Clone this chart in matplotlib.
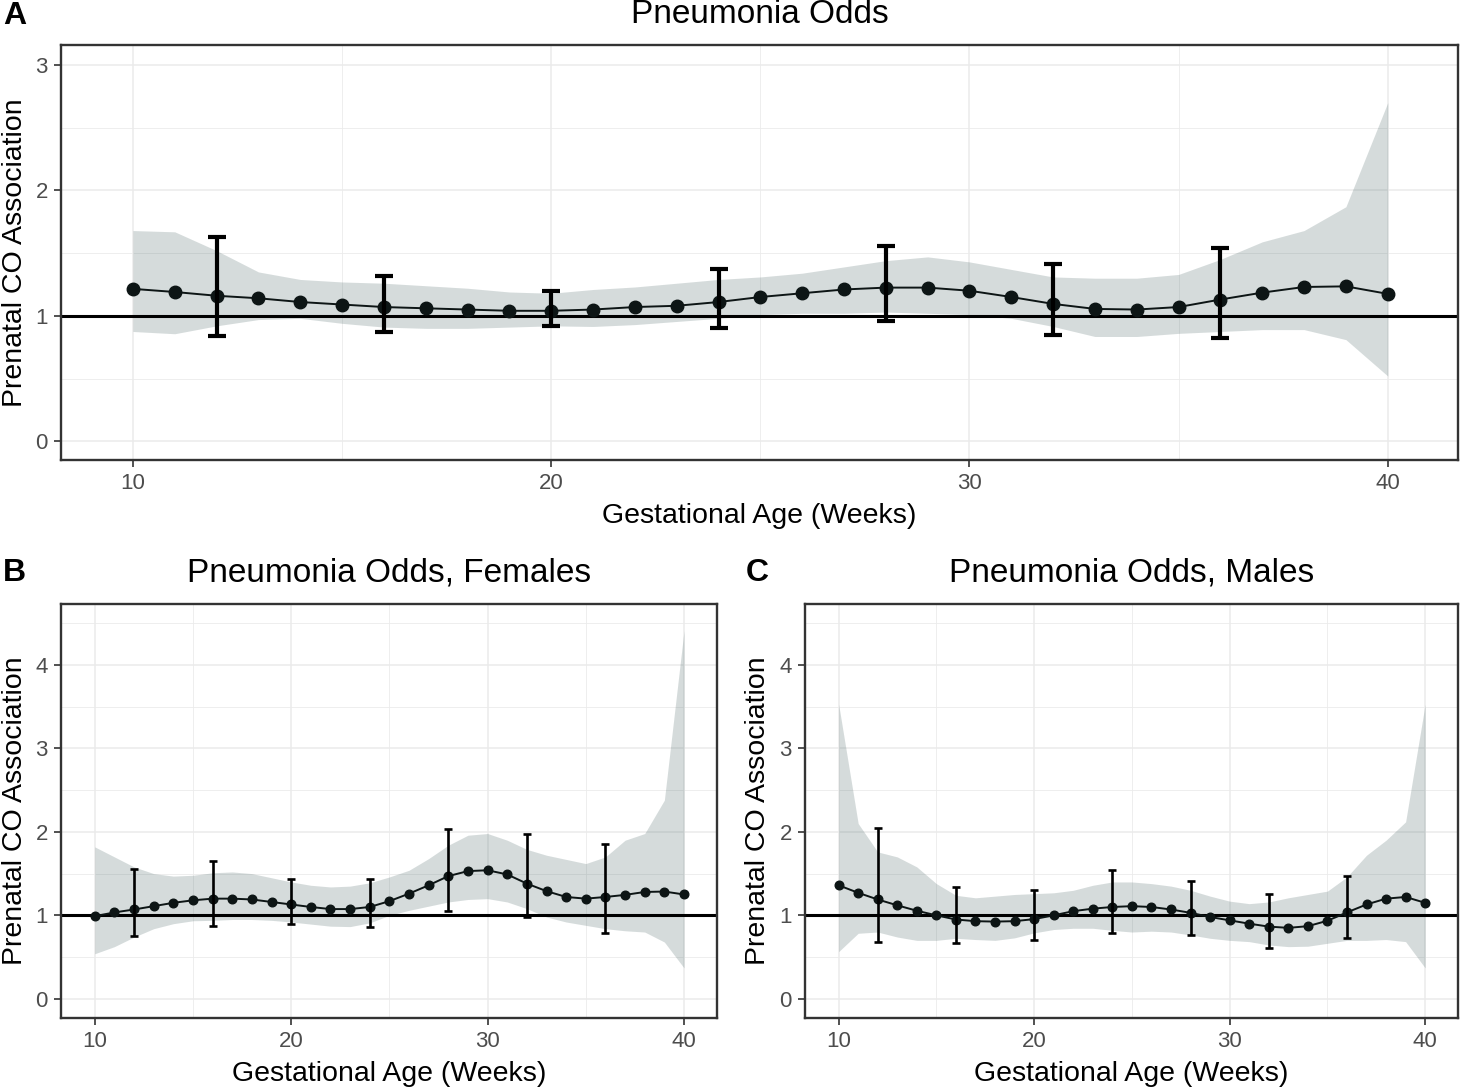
import matplotlib
matplotlib.use("Agg")
import matplotlib.pyplot as plt
import numpy as np

plt.rcParams['font.family'] = ['Liberation Sans', 'DejaVu Sans']

weeks = list(range(10, 41))
err_weeks = [12, 16, 20, 24, 28, 32, 36]

# panel A - all
a_est = [1.215, 1.19, 1.16, 1.14, 1.11, 1.09, 1.07, 1.06, 1.05, 1.04, 1.04,
         1.05, 1.07, 1.08, 1.11, 1.15, 1.18, 1.21, 1.225, 1.225, 1.20,
         1.15, 1.095, 1.055, 1.05, 1.07, 1.13, 1.185, 1.23, 1.235, 1.175]
a_hi = [1.68, 1.67, 1.52, 1.35, 1.29, 1.27, 1.26, 1.24, 1.22, 1.19, 1.18,
        1.21, 1.23, 1.26, 1.29, 1.31, 1.34, 1.39, 1.44, 1.47, 1.43,
        1.37, 1.31, 1.30, 1.30, 1.33, 1.45, 1.59, 1.68, 1.87, 2.70]
a_lo = [0.875, 0.857, 0.92, 0.97, 0.98, 0.94, 0.91, 0.90, 0.90, 0.91, 0.92,
        0.915, 0.93, 0.955, 0.98, 1.01, 1.02, 1.02, 1.03, 1.02, 1.01,
        0.98, 0.915, 0.835, 0.835, 0.86, 0.875, 0.89, 0.89, 0.81, 0.52]
a_err_hi = [1.63, 1.32, 1.20, 1.37, 1.56, 1.41, 1.54]
a_err_lo = [0.84, 0.87, 0.915, 0.90, 0.96, 0.85, 0.82]

# panel B - females
b_est = [0.99, 1.035, 1.07, 1.11, 1.15, 1.18, 1.20, 1.20, 1.19, 1.16, 1.13,
         1.10, 1.075, 1.075, 1.10, 1.17, 1.26, 1.36, 1.47, 1.53, 1.54,
         1.49, 1.38, 1.29, 1.22, 1.20, 1.22, 1.245, 1.28, 1.285, 1.25]
b_hi = [1.82, 1.70, 1.58, 1.50, 1.47, 1.48, 1.51, 1.52, 1.50, 1.45, 1.40,
        1.36, 1.34, 1.35, 1.39, 1.46, 1.54, 1.68, 1.84, 1.96, 1.98,
        1.90, 1.79, 1.72, 1.67, 1.62, 1.70, 1.90, 1.98, 2.38, 4.41]
b_lo = [0.54, 0.625, 0.74, 0.84, 0.90, 0.935, 0.94, 0.95, 0.95, 0.94, 0.92,
        0.895, 0.87, 0.865, 0.91, 1.00, 1.06, 1.11, 1.16, 1.19, 1.20,
        1.16, 1.08, 0.98, 0.92, 0.88, 0.84, 0.815, 0.80, 0.68, 0.37]
b_err_hi = [1.56, 1.65, 1.44, 1.43, 2.04, 1.97, 1.86]
b_err_lo = [0.75, 0.87, 0.895, 0.855, 1.05, 0.975, 0.785]

# panel C - males
c_est = [1.36, 1.27, 1.19, 1.12, 1.055, 1.00, 0.95, 0.93, 0.925, 0.93, 0.955,
         1.00, 1.05, 1.08, 1.10, 1.11, 1.10, 1.07, 1.03, 0.98, 0.94,
         0.90, 0.865, 0.85, 0.87, 0.935, 1.035, 1.13, 1.20, 1.22, 1.15]
c_hi = [3.53, 2.10, 1.76, 1.70, 1.58, 1.38, 1.24, 1.21, 1.23, 1.25, 1.26,
        1.27, 1.30, 1.36, 1.40, 1.40, 1.38, 1.35, 1.30, 1.23, 1.17,
        1.14, 1.16, 1.21, 1.25, 1.29, 1.46, 1.72, 1.90, 2.12, 3.53]
c_lo = [0.565, 0.785, 0.80, 0.74, 0.70, 0.70, 0.725, 0.71, 0.70, 0.73, 0.79,
        0.83, 0.845, 0.845, 0.82, 0.80, 0.81, 0.80, 0.765, 0.725, 0.70,
        0.685, 0.645, 0.625, 0.63, 0.665, 0.70, 0.70, 0.71, 0.685, 0.37]
c_err_hi = [2.05, 1.34, 1.30, 1.54, 1.41, 1.26, 1.47]
c_err_lo = [0.685, 0.67, 0.71, 0.785, 0.765, 0.605, 0.725]

W, H = 1460, 1087
fig = plt.figure(figsize=(W / 100, H / 100), dpi=100)


def px_axes(l, t, r, b):
    return fig.add_axes([l / W, 1 - b / H, (r - l) / W, (b - t) / H])


ax_a = px_axes(61, 45, 1458, 460)
ax_b = px_axes(61, 604, 717, 1018)
ax_c = px_axes(805, 604, 1458, 1018)

panels = [
    (ax_a, "Pneumonia Odds", a_est, a_hi, a_lo, a_err_hi, a_err_lo, True),
    (ax_b, "Pneumonia Odds, Females", b_est, b_hi, b_lo, b_err_hi, b_err_lo, False),
    (ax_c, "Pneumonia Odds, Males", c_est, c_hi, c_lo, c_err_hi, c_err_lo, False),
]

for ax, title, est, hi, lo, ehi, elo, big in panels:
    ax.set_axisbelow(True)
    ax.fill_between(weeks, lo, hi, color='#2F4F4F', alpha=0.2, lw=0, zorder=1)
    ax.axhline(1, color='black', lw=2.2, zorder=2)
    ax.plot(weeks, est, color='#0d1515', lw=1.4, zorder=3)
    ax.plot(weeks, est, 'o', color='#0d1515', ms=9 if big else 6.2, zorder=4)
    e_mid = [est[weeks.index(w)] for w in err_weeks]
    yerr = [np.array(e_mid) - np.array(elo), np.array(ehi) - np.array(e_mid)]
    ax.errorbar(err_weeks, e_mid, yerr=yerr, fmt='none', ecolor='black',
                elinewidth=3.0 if big else 1.9, capsize=6.4 if big else 3.2,
                capthick=3.0 if big else 1.9, zorder=5)

    ax.set_xlim(8.28, 41.68)
    ax.set_xticks([10, 20, 30, 40])
    ax.set_xticks([15, 25, 35], minor=True)
    if big:
        ax.set_ylim(-0.15, 3.16)
        ax.set_yticks([0, 1, 2, 3])
        ax.set_yticks([0.5, 1.5, 2.5], minor=True)
    else:
        ax.set_ylim(-0.23, 4.73)
        ax.set_yticks([0, 1, 2, 3, 4])
        ax.set_yticks([0.5, 1.5, 2.5, 3.5, 4.5], minor=True)
    ax.grid(which='major', color='#EBEBEB', lw=1.1)
    ax.grid(which='minor', color='#EBEBEB', lw=0.6)
    for s in ax.spines.values():
        s.set_color('#333333')
        s.set_linewidth(1.7)
    ax.tick_params(which='major', length=5, width=1.2, color='#333333',
                   labelcolor='#4D4D4D', labelsize=16, pad=4.5)
    ax.tick_params(which='minor', length=0)
    ax.set_title(title, fontsize=24, pad=16)
    ax.set_xlabel("Gestational Age (Weeks)", fontsize=20.5, labelpad=6.5)
    ax.set_ylabel("Prenatal CO Association", fontsize=20.5)

ax_a.yaxis.set_label_coords((28 - 61) / 1397, 0.5)
ax_b.yaxis.set_label_coords((28 - 61) / 656, 0.5)
ax_c.yaxis.set_label_coords((771 - 805) / 653, 0.5)

fig.text(3 / W, 1 - 24 / H, "A", fontsize=23, fontweight='bold')
fig.text(3 / W, 1 - 581 / H, "B", fontsize=23, fontweight='bold')
fig.text(746 / W, 1 - 581 / H, "C", fontsize=23, fontweight='bold')

fig.savefig("out.png", dpi=100)
